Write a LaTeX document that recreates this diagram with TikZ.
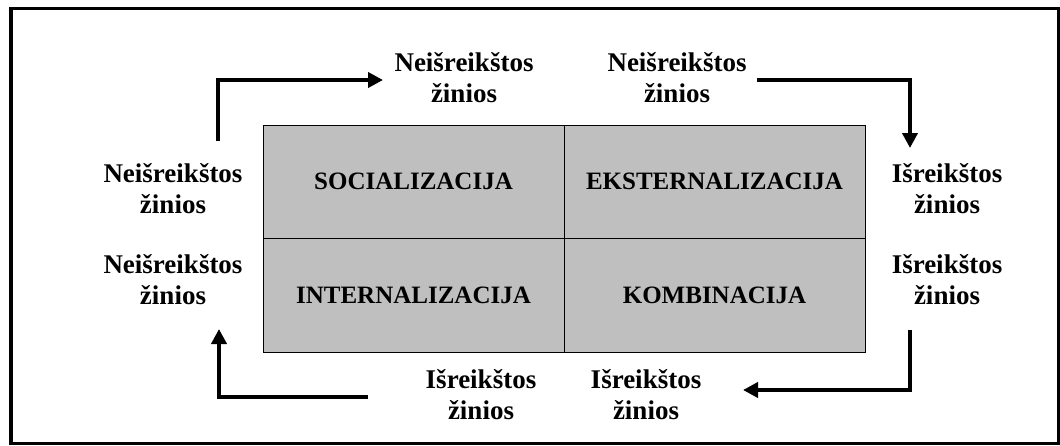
\documentclass[tikz,border=0pt]{standalone}
\usepackage{fontspec}
\setmainfont{Liberation Serif}
\usetikzlibrary{arrows.meta}
\begin{document}
\begin{tikzpicture}[x=1pt,y=-1pt,
  lbl/.style={font=\bfseries\fontsize{27}{31}\selectfont,align=center,inner sep=0pt},
  cell/.style={draw=black,line width=1pt,fill=gray!50!white,minimum width=301pt,minimum height=113.5pt,inner sep=0pt,font=\bfseries\fontsize{25}{28}\selectfont},
  flow/.style={line width=4pt,-{Triangle[length=15pt,width=15pt]}}]
\useasboundingbox (0,0) rectangle (1060,445);
\draw[line width=3.5pt] (11,8.5) rectangle (1059,443.5);
% grid
\node[cell] (soc) at (413.5,181.75) {SOCIALIZACIJA};
\node[cell] (eks) at (714.5,181.75) {EKSTERNALIZACIJA};
\node[cell] (int) at (413.5,295.25) {INTERNALIZACIJA};
\node[cell] (kom) at (714.5,295.25) {KOMBINACIJA};
% labels
\node[lbl] (tl) at (464,78) {Neišreikštos\\žinios};
\node[lbl] (tr) at (677,78) {Neišreikštos\\žinios};
\node[lbl] (l1) at (173,189) {Neišreikštos\\žinios};
\node[lbl] (l2) at (173,280) {Neišreikštos\\žinios};
\node[lbl] (r1) at (947,189) {Išreikštos\\žinios};
\node[lbl] (r2) at (947,280) {Išreikštos\\žinios};
\node[lbl] (b1) at (481,394.5) {Išreikštos\\žinios};
\node[lbl] (b2) at (646,394.5) {Išreikštos\\žinios};
% arrow ends
\coordinate (a1s) at (218,141);
\coordinate (a1e) at (383,80);
\coordinate (a2s) at (757,80);
\coordinate (a2e) at (910,148);
\coordinate (a3s) at (910,330);
\coordinate (a3e) at (743,390);
\coordinate (a4s) at (368,397);
\coordinate (a4e) at (219,329);
\draw[flow] (a1s) |- (a1e);
\draw[flow] (a2s) -| (a2e);
\draw[flow] (a3s) |- (a3e);
\draw[flow] (a4s) -| (a4e);
\end{tikzpicture}
\end{document}
